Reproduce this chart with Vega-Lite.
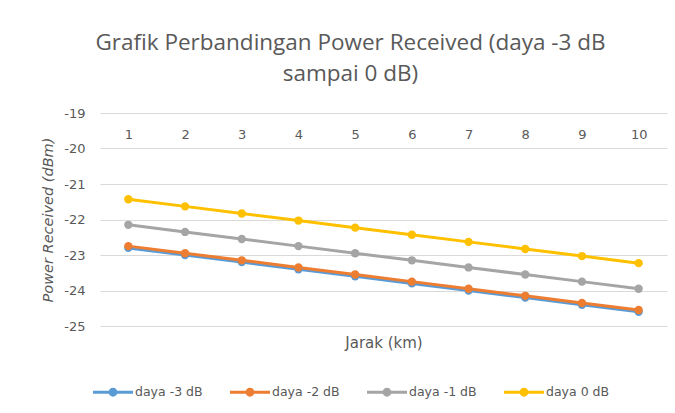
{
  "$schema": "https://vega.github.io/schema/vega-lite/v6.json",
  "autosize": {"type": "none"},
  "width": 567,
  "height": 213,
  "padding": {"left": 100, "top": 113, "right": 8, "bottom": 87},
  "background": "white",
  "title": {
    "text": ["Grafik Perbandingan Power Received (daya -3 dB", "sampai 0 dB)"],
    "anchor": "middle",
    "frame": "group",
    "dx": -33,
    "offset": 22,
    "font": "Open Sans",
    "fontSize": 22.5,
    "fontWeight": "normal",
    "color": "#595959",
    "lineHeight": 31
  },
  "data": {
    "values": [
      {"jarak": 1, "seri": "daya -3 dB", "pr": -22.8},
      {"jarak": 2, "seri": "daya -3 dB", "pr": -23.0},
      {"jarak": 3, "seri": "daya -3 dB", "pr": -23.2},
      {"jarak": 4, "seri": "daya -3 dB", "pr": -23.4},
      {"jarak": 5, "seri": "daya -3 dB", "pr": -23.6},
      {"jarak": 6, "seri": "daya -3 dB", "pr": -23.8},
      {"jarak": 7, "seri": "daya -3 dB", "pr": -24.0},
      {"jarak": 8, "seri": "daya -3 dB", "pr": -24.2},
      {"jarak": 9, "seri": "daya -3 dB", "pr": -24.4},
      {"jarak": 10, "seri": "daya -3 dB", "pr": -24.6},
      {"jarak": 1, "seri": "daya -2 dB", "pr": -22.75},
      {"jarak": 2, "seri": "daya -2 dB", "pr": -22.95},
      {"jarak": 3, "seri": "daya -2 dB", "pr": -23.15},
      {"jarak": 4, "seri": "daya -2 dB", "pr": -23.35},
      {"jarak": 5, "seri": "daya -2 dB", "pr": -23.55},
      {"jarak": 6, "seri": "daya -2 dB", "pr": -23.75},
      {"jarak": 7, "seri": "daya -2 dB", "pr": -23.95},
      {"jarak": 8, "seri": "daya -2 dB", "pr": -24.15},
      {"jarak": 9, "seri": "daya -2 dB", "pr": -24.35},
      {"jarak": 10, "seri": "daya -2 dB", "pr": -24.55},
      {"jarak": 1, "seri": "daya -1 dB", "pr": -22.15},
      {"jarak": 2, "seri": "daya -1 dB", "pr": -22.35},
      {"jarak": 3, "seri": "daya -1 dB", "pr": -22.55},
      {"jarak": 4, "seri": "daya -1 dB", "pr": -22.75},
      {"jarak": 5, "seri": "daya -1 dB", "pr": -22.95},
      {"jarak": 6, "seri": "daya -1 dB", "pr": -23.15},
      {"jarak": 7, "seri": "daya -1 dB", "pr": -23.35},
      {"jarak": 8, "seri": "daya -1 dB", "pr": -23.55},
      {"jarak": 9, "seri": "daya -1 dB", "pr": -23.75},
      {"jarak": 10, "seri": "daya -1 dB", "pr": -23.95},
      {"jarak": 1, "seri": "daya 0 dB", "pr": -21.43},
      {"jarak": 2, "seri": "daya 0 dB", "pr": -21.63},
      {"jarak": 3, "seri": "daya 0 dB", "pr": -21.83},
      {"jarak": 4, "seri": "daya 0 dB", "pr": -22.03},
      {"jarak": 5, "seri": "daya 0 dB", "pr": -22.23},
      {"jarak": 6, "seri": "daya 0 dB", "pr": -22.43},
      {"jarak": 7, "seri": "daya 0 dB", "pr": -22.63},
      {"jarak": 8, "seri": "daya 0 dB", "pr": -22.83},
      {"jarak": 9, "seri": "daya 0 dB", "pr": -23.03},
      {"jarak": 10, "seri": "daya 0 dB", "pr": -23.23}
    ]
  },
  "encoding": {
    "y": {
      "field": "pr",
      "type": "quantitative",
      "scale": {"domain": [-25, -19], "nice": false, "zero": false},
      "axis": {
        "values": [-25, -24, -23, -22, -21, -20, -19],
        "labelExpr": "'-' + abs(datum.value)",
        "title": "Power Received (dBm)",
        "titleFont": "DejaVu Sans",
        "titleFontSize": 14.5,
        "titleFontWeight": "normal",
        "titleFontStyle": "italic",
        "titleColor": "#595959",
        "titlePadding": 8,
        "labelFont": "DejaVu Sans",
        "labelFontSize": 13,
        "labelColor": "#595959",
        "labelPadding": 15,
        "tickSize": 0,
        "ticks": false,
        "domain": false,
        "grid": true,
        "gridColor": "#D9D9D9",
        "gridWidth": 1
      }
    },
    "color": {
      "field": "seri",
      "type": "nominal",
      "scale": {
        "domain": ["daya -3 dB", "daya -2 dB", "daya -1 dB", "daya 0 dB"],
        "range": ["#5B9BD5", "#ED7D31", "#A5A5A5", "#FFC000"]
      },
      "legend": {
        "title": null,
        "orient": "none",
        "legendX": -7,
        "legendY": 259,
        "direction": "horizontal",
        "columns": 4,
        "columnPadding": 27,
        "symbolType": "M-1,-0.075L1,-0.075L1,0.075L-1,0.075Z M-0.22,0 A0.22,0.22 0 1,1 0.22,0 A0.22,0.22 0 1,1 -0.22,0 Z",
        "symbolSize": 1600,
        "symbolStrokeWidth": 0,
        "labelFont": "DejaVu Sans",
        "labelFontSize": 12.5,
        "labelColor": "#595959",
        "labelOffset": 2
      }
    }
  },
  "layer": [
    {
      "mark": {"type": "line", "strokeWidth": 3},
      "encoding": {
        "x": {
          "field": "jarak",
          "type": "ordinal",
          "scale": {"type": "point", "padding": 0.5},
          "axis": {
            "orient": "top",
            "offset": -28,
            "title": null,
            "labelAngle": 0,
            "labelFont": "DejaVu Sans",
            "labelFontSize": 13,
            "labelColor": "#595959",
            "labelPadding": 0,
            "tickSize": 0,
            "ticks": false,
            "domain": false,
            "grid": false
          }
        }
      }
    },
    {
      "mark": {"type": "point", "filled": true, "opacity": 1, "size": 70},
      "encoding": {
        "x": {
          "field": "jarak",
          "type": "ordinal",
          "scale": {"type": "point", "padding": 0.5},
          "axis": {
            "orient": "bottom",
            "title": "Jarak (km)",
            "titleFont": "DejaVu Sans",
            "titleFontSize": 15,
            "titleFontWeight": "normal",
            "titleColor": "#595959",
            "titlePadding": 9,
            "labels": false,
            "ticks": false,
            "domain": false,
            "grid": false
          }
        }
      }
    }
  ],
  "resolve": {"axis": {"x": "independent"}},
  "config": {"view": {"stroke": null}}
}
